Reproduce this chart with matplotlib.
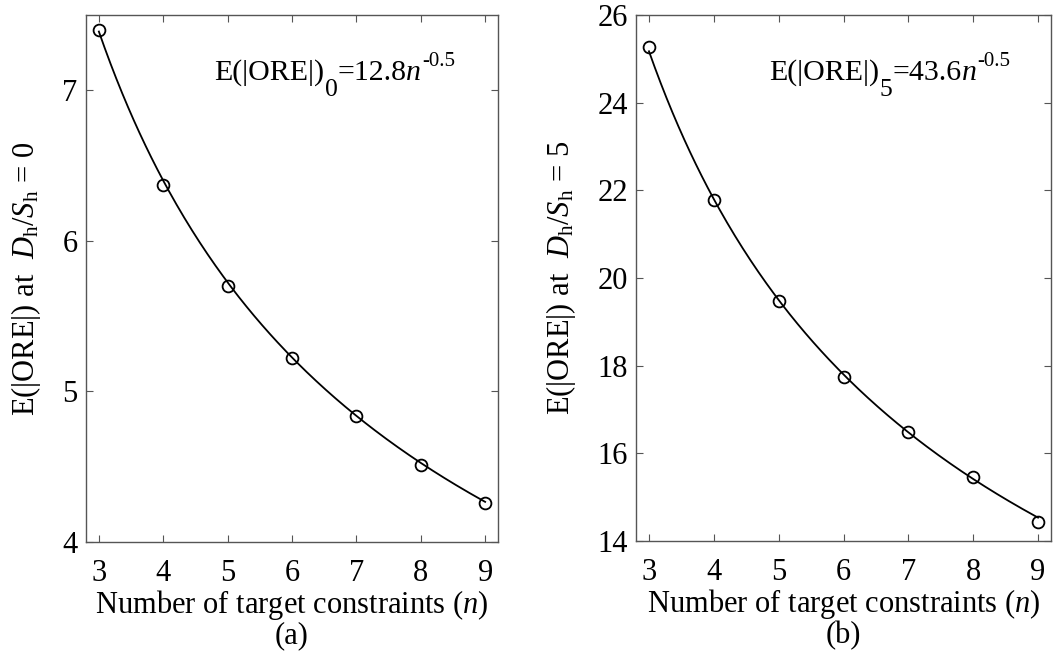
import numpy as np
import matplotlib
matplotlib.use("Agg")
import matplotlib.pyplot as plt

# constraint counts and mean |ORE|
n_vals = [3, 4, 5, 6, 7, 8, 9]
ore_0 = [7.40, 6.37, 5.70, 5.22, 4.84, 4.51, 4.26]
ore_5 = [25.26, 21.78, 19.48, 17.74, 16.49, 15.45, 14.44]

# power-law fits shown on the panels: a * n^b
fit_a = [12.8, 43.6]
fit_b = -0.5

y_ticks_a = [4, 5, 6, 7]
y_ticks_b = [14, 16, 18, 20, 22, 24, 26]

plt.rcParams['font.family'] = ['Liberation Serif', 'DejaVu Serif']
plt.rcParams['mathtext.fontset'] = 'custom'
plt.rcParams['mathtext.rm'] = 'Liberation Serif'
plt.rcParams['mathtext.it'] = 'Liberation Serif:italic'
plt.rcParams['font.size'] = 22


def eq_label(ax, x, y, sub, coef):
    # fit equation, built piece by piece so the sub/superscripts stay large
    fs = 21.5
    t1 = ax.text(x, y, 'E(|ORE|)', transform=ax.transAxes, fontsize=fs,
                 va='bottom')
    t2 = ax.annotate(sub, xy=(1, 0), xycoords=t1, xytext=(0.5, -7),
                     textcoords='offset points', fontsize=18.5,
                     va='baseline')
    t3 = ax.annotate('=' + coef, xy=(1, 0), xycoords=(t2, t1), fontsize=fs,
                     va='bottom')
    t4 = ax.annotate('n', xy=(1, 0), xycoords=t3, fontsize=fs,
                     style='italic', va='bottom')
    ax.annotate('-0.5', xy=(1, 0), xycoords=t4, xytext=(0.5, 14.5),
                textcoords='offset points', fontsize=15, va='baseline')


fig = plt.figure(figsize=(10.57, 6.57), dpi=100)
ax1 = fig.add_axes([86 / 1057, 115 / 657, 412 / 1057, 527 / 657])
ax2 = fig.add_axes([636 / 1057, 116 / 657, 415 / 1057, 526 / 657])

panels = [
    (ax1, ore_0, fit_a[0], (4, 7.5), y_ticks_a, '0', '(a)', 0.31),
    (ax2, ore_5, fit_a[1], (14, 26), y_ticks_b, '5', '(b)', 0.32),
]

x_fit = np.linspace(min(n_vals), max(n_vals), 200)
for ax, ore, a, ylim, yt, dh, tag, eqx in panels:
    ax.plot(x_fit, a * x_fit ** fit_b, color='black', lw=1.3)
    ax.plot(n_vals, ore, 'o', ms=8.5, mfc='none', mec='black', mew=1.3)
    ax.set_xlim(2.8, 9.2)
    ax.set_ylim(*ylim)
    ax.set_xticks(n_vals)
    ax.set_yticks(yt)
    ax.tick_params(direction='in', top=True, right=True, length=5,
                   width=0.8, color='#555555', labelsize=22)
    ax.tick_params(axis='x', pad=12)
    ax.tick_params(axis='y', pad=6)
    for s in ax.spines.values():
        s.set_color('#555555')
        s.set_linewidth(1.0)
    ax.set_xlabel('Number of target constraints ($n$)\n' + tag,
                  fontsize=22, labelpad=0, linespacing=1.0)
    ax.set_ylabel(r'E(|ORE|) at  $D_{\rm h}/S_{\rm h}$ = ' + dh,
                  fontsize=22, labelpad=14)
    eq_label(ax, eqx, 0.865, dh, '%.1f' % a)

fig.savefig('out.png', dpi=100)
